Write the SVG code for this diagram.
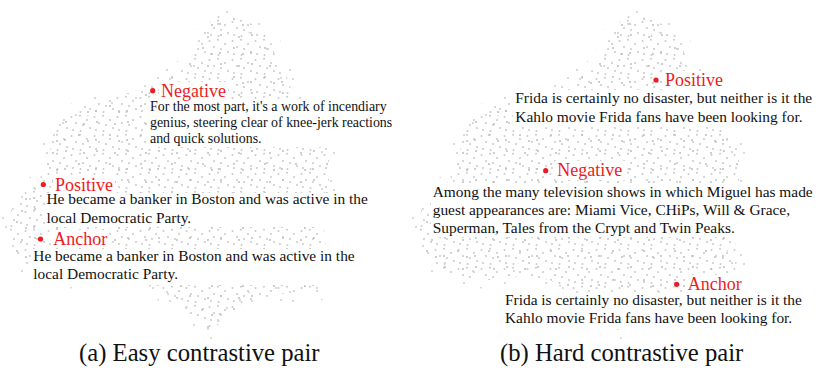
<svg xmlns="http://www.w3.org/2000/svg" width="820" height="371" viewBox="0 0 820 371">
<style>
text{font-family:"Liberation Serif","Times New Roman",serif;}
.lab{fill:#ec1c24;font-size:18px;}
.txt{fill:#111;font-size:15.4px;}
.txs{fill:#111;font-size:13.9px;}
.cap{fill:#111;font-size:24.7px;}
.bg{fill:#fff;}
.pt{fill:#ec1c24;}
</style>
<defs>
<pattern id="p1" width="23" height="19" patternUnits="userSpaceOnUse">
<g fill="#cacaca">
<circle cx="2.5" cy="3" r="1"/><circle cx="11" cy="1.8" r="1"/><circle cx="18" cy="6" r="1"/><circle cx="7" cy="9" r="1"/>
<circle cx="14" cy="11" r="1"/><circle cx="21" cy="14" r="1"/><circle cx="4" cy="16" r="1"/><circle cx="11.5" cy="17" r="1"/>
</g>
</pattern>
<pattern id="p2" width="31" height="29" patternUnits="userSpaceOnUse">
<g fill="#bdbdbd">
<circle cx="4" cy="6" r="1"/><circle cx="22" cy="8" r="1"/>
<circle cx="17" cy="19" r="1"/><circle cx="3" cy="24" r="1"/><circle cx="26" cy="25" r="1"/>
</g>
</pattern>
<pattern id="p3" width="41" height="37" patternUnits="userSpaceOnUse">
<g fill="#cfcfcf">
<circle cx="6" cy="5" r="1"/><circle cx="22" cy="12" r="1"/><circle cx="35" cy="4" r="1"/>
<circle cx="13" cy="24" r="1"/><circle cx="30" cy="29" r="1"/><circle cx="3" cy="33" r="1"/>
</g>
</pattern>
<path id="cloudShape" d="M216,14 L232,17 L250,23 L264,32 L272,44 L276,60 L286,74 L292,92 L302,112 L314,132 L328,150 L330,172 L327,200 L324,230 L327,260 L324,282 L318,292 L280,294 L244,302 L228,316 L212,330 L200,324 L188,312 L176,298 L156,290 L140,280 L110,276 L80,280 L52,278 L28,268 L14,250 L8,228 L11,210 L20,196 L38,182 L48,162 L53,134 L64,117 L92,104 L125,94 L152,86 L180,72 L196,52 L204,30 Z"/>
<g id="cloud">
<use href="#cloudShape" fill="url(#p1)" stroke="url(#p3)" stroke-width="18" stroke-linejoin="round"/>
<use href="#cloudShape" fill="url(#p2)"/>
</g>
</defs>

<g id="clouds">
<use href="#cloud"/>
<use href="#cloud" transform="translate(410,0)"/>
</g>

<g id="connectors"></g>

<!-- Panel (a) -->
<g id="a-negative">
<rect class="bg" x="159" y="82" width="69" height="18"/>
<rect class="bg" x="147" y="100" width="243" height="47"/>
<circle class="pt" cx="152.7" cy="90.7" r="2.6"/>
<text class="lab" x="161" y="96.7">Negative</text>
<text class="txs" x="150" y="111">For the most part, it's a work of incendiary</text>
<text class="txs" x="150" y="126.8">genius, steering clear of knee-jerk reactions</text>
<text class="txs" x="150" y="142.6">and quick solutions.</text>
</g>
<g id="a-positive">
<rect class="bg" x="53" y="176" width="62" height="18"/>
<rect class="bg" x="45" y="193" width="326" height="34"/>
<circle class="pt" cx="43.3" cy="184.5" r="2.6"/>
<text class="lab" x="55" y="190.7">Positive</text>
<text class="txt" x="46.5" y="204.3">He became a banker in Boston and was active in the</text>
<text class="txt" x="46.5" y="222.7">local Democratic Party.</text>
</g>
<g id="a-anchor">
<rect class="bg" x="51" y="230" width="56" height="18"/>
<rect class="bg" x="32" y="249" width="326" height="36"/>
<circle class="pt" cx="40.5" cy="239" r="2.6"/>
<text class="lab" x="53.3" y="245">Anchor</text>
<text class="txt" x="33.3" y="260.8">He became a banker in Boston and was active in the</text>
<text class="txt" x="33.3" y="279.3">local Democratic Party.</text>
</g>

<!-- Panel (b) -->
<g id="b-positive">
<rect class="bg" x="663" y="71" width="62" height="19"/>
<rect class="bg" x="513" y="90" width="303" height="37"/>
<circle class="pt" cx="656" cy="80" r="2.6"/>
<text class="lab" x="665" y="85.7">Positive</text>
<text class="txt" x="515.3" y="103.3">Frida is certainly no disaster, but neither is it the</text>
<text class="txt" x="515.3" y="122">Kahlo movie Frida fans have been looking for.</text>
</g>
<g id="b-negative">
<rect class="bg" x="555" y="161" width="71" height="19"/>
<rect class="bg" x="431" y="183" width="386" height="54"/>
<circle class="pt" cx="545.7" cy="170.7" r="2.6"/>
<text class="lab" x="557.3" y="176">Negative</text>
<text class="txt" x="432.7" y="196.7">Among the many television shows in which Miguel has made</text>
<text class="txt" x="432.7" y="214.5">guest appearances are: Miami Vice, CHiPs, Will &amp; Grace,</text>
<text class="txt" x="432.7" y="232.5">Superman, Tales from the Crypt and Twin Peaks.</text>
</g>
<g id="b-anchor">
<rect class="bg" x="685" y="275" width="57" height="18"/>
<rect class="bg" x="503" y="293" width="303" height="36"/>
<circle class="pt" cx="676.7" cy="284.3" r="2.6"/>
<text class="lab" x="687.7" y="290">Anchor</text>
<text class="txt" x="505" y="305">Frida is certainly no disaster, but neither is it the</text>
<text class="txt" x="505" y="323.3">Kahlo movie Frida fans have been looking for.</text>
</g>

<g id="captions">
<text class="cap" x="79" y="360.5">(a) Easy contrastive pair</text>
<text class="cap" x="500" y="360.5">(b) Hard contrastive pair</text>
</g>
</svg>
